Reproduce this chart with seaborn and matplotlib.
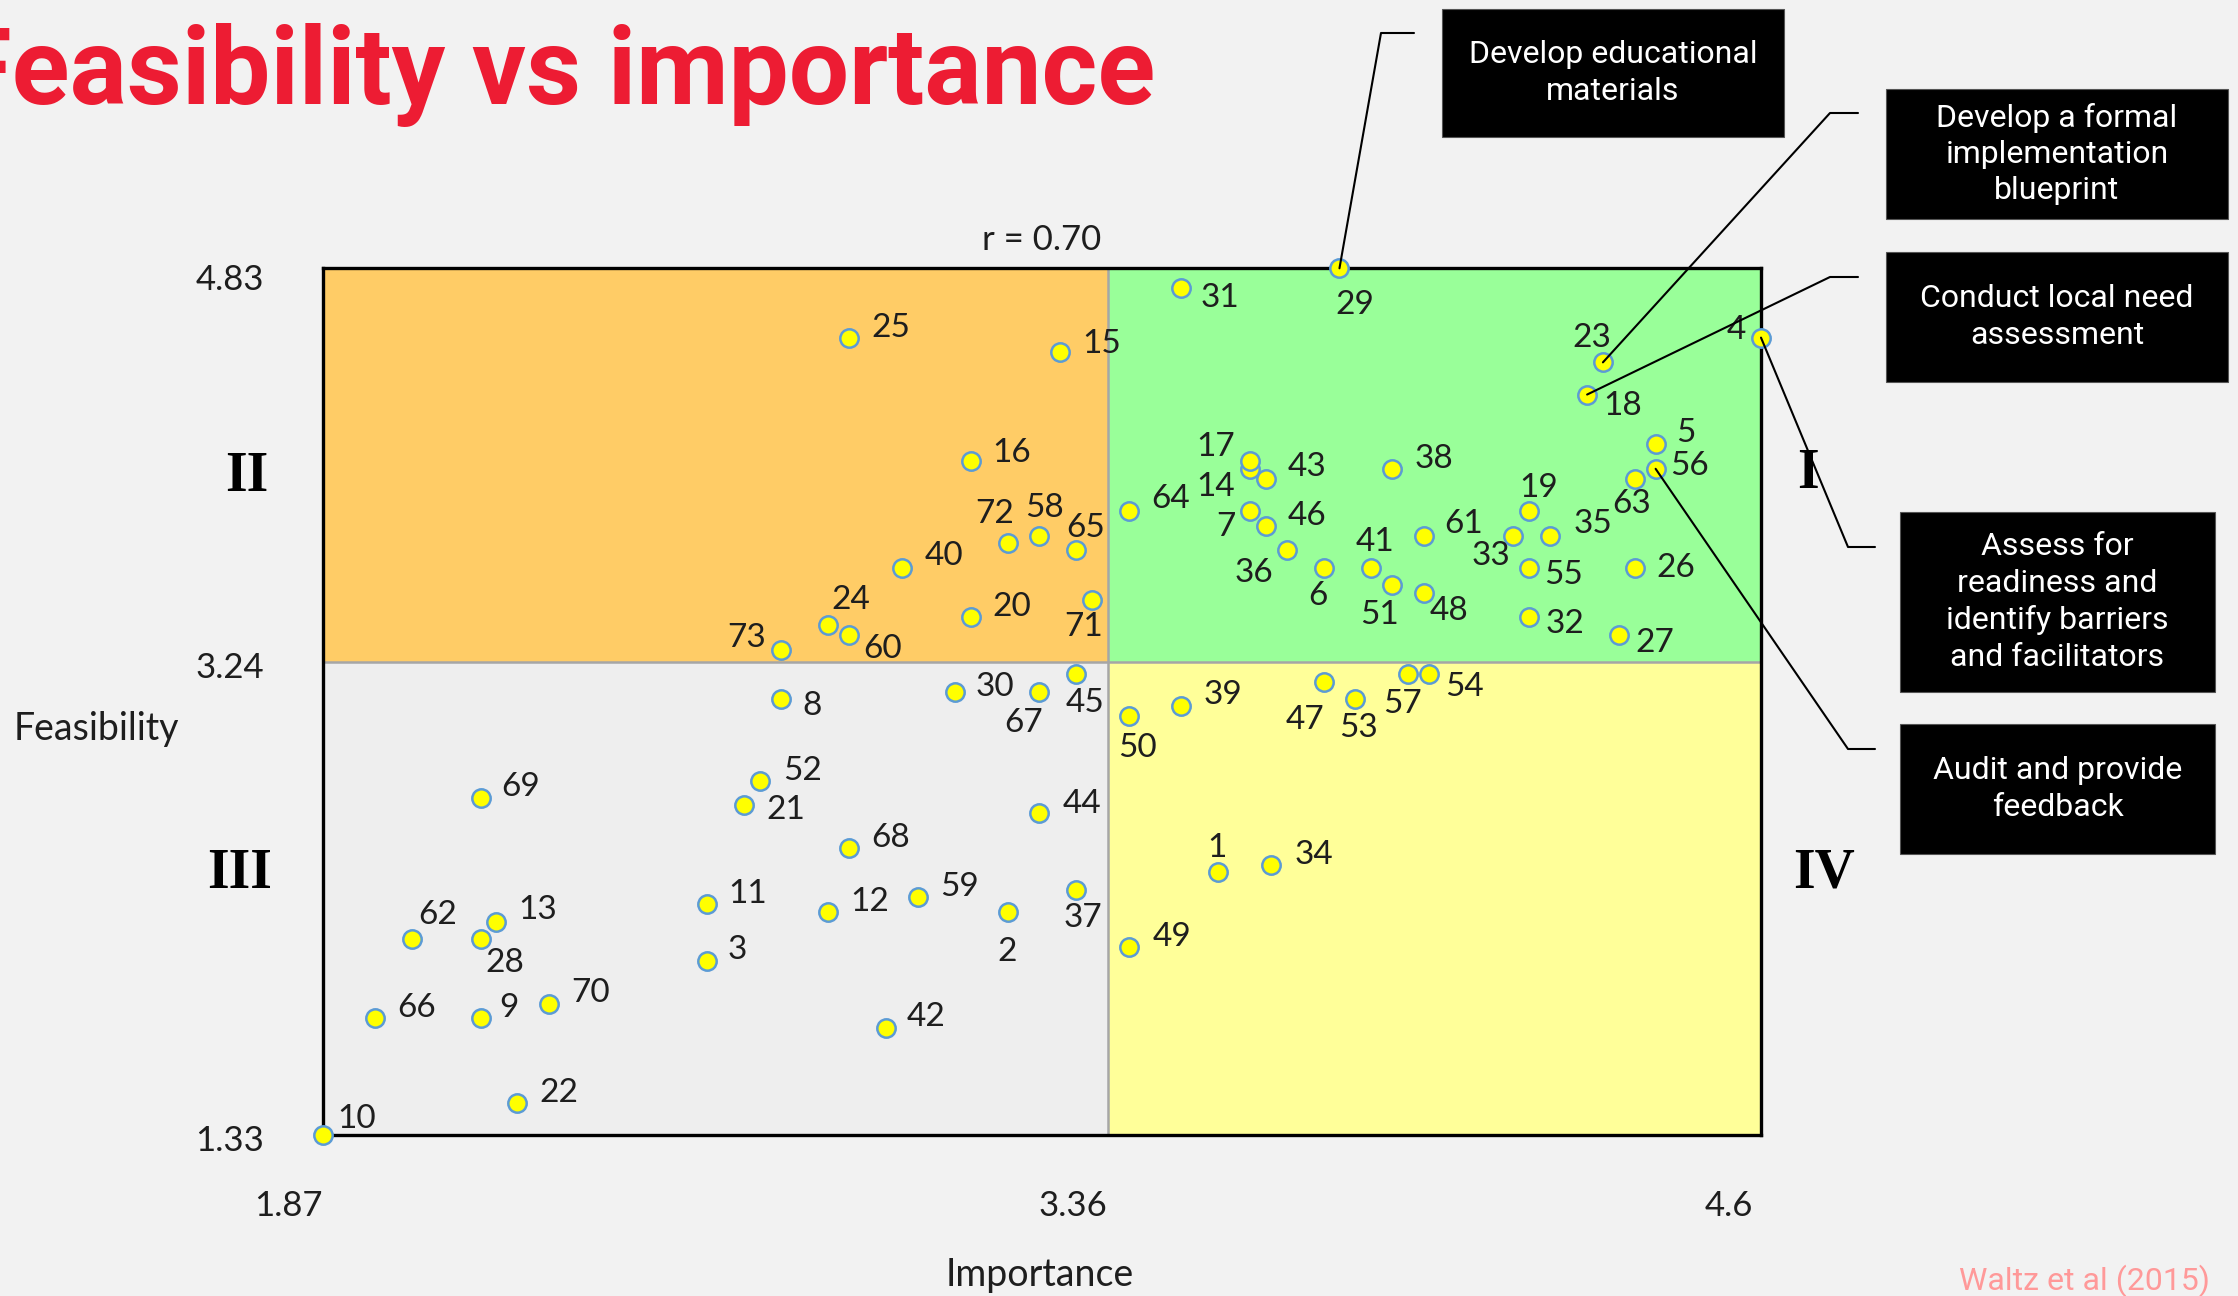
import matplotlib
matplotlib.use("Agg")
import matplotlib.pyplot as plt
import matplotlib.transforms as mtransforms
from matplotlib.patches import Rectangle
from matplotlib.lines import Line2D
import pandas as pd
import seaborn as sns

# ---------------------------------------------------------------- data
statement_ids = list(range(1, 74))
importance = [
    3.57, 3.17, 2.60, 4.60, 4.40, 3.77, 3.63, 2.74, 2.17, 1.87,
    2.60, 2.83, 2.20, 3.63, 3.27, 3.10, 3.63, 4.27, 4.16, 3.10,
    2.67, 2.24, 4.30, 2.83, 2.87, 4.36, 4.33, 2.17, 3.80, 3.07,
    3.50, 4.16, 4.13, 3.67, 4.20, 3.70, 3.30, 3.90, 3.50, 2.97,
    3.86, 2.94, 3.66, 3.23, 3.30, 3.66, 3.77, 3.96, 3.40, 3.40,
    3.90, 2.70, 3.83, 3.97, 4.16, 4.40, 3.93, 3.23, 3.00, 2.87,
    3.96, 2.04, 4.36, 3.40, 3.30, 1.97, 3.23, 2.87, 2.17, 2.30,
    3.33, 3.17, 2.74,
]
feasibility = [
    2.39, 2.23, 2.03, 4.55, 4.12, 3.62, 3.85, 3.09, 1.80, 1.33,
    2.26, 2.23, 2.19, 4.02, 4.49, 4.05, 4.05, 4.32, 3.85, 3.42,
    2.66, 1.46, 4.45, 3.39, 4.55, 3.62, 3.35, 2.12, 4.83, 3.12,
    4.75, 3.42, 3.75, 2.42, 3.75, 3.69, 2.32, 4.02, 3.06, 3.62,
    3.62, 1.76, 3.98, 2.63, 3.19, 3.79, 3.16, 3.52, 2.09, 3.02,
    3.55, 2.76, 3.09, 3.19, 3.62, 4.02, 3.19, 3.75, 2.29, 3.35,
    3.75, 2.12, 3.98, 3.85, 3.69, 1.80, 3.12, 2.49, 2.69, 1.86,
    3.49, 3.72, 3.29,
]
importance_range = (1.87, 4.6)
feasibility_range = (1.33, 4.83)
importance_mean = 3.36
feasibility_mean = 3.24
correlation_text = "r = 0.70"

x_tick_values = [1.87, 3.36, 4.6]
x_tick_labels = ["1.87", "3.36", "4.6"]
y_tick_values = [1.33, 3.24, 4.83]
y_tick_labels = ["1.33", "3.24", "4.83"]

callout_texts = [
    "Develop educational\nmaterials",
    "Develop a formal\nimplementation\nblueprint",
    "Conduct local need\nassessment",
    "Assess for\nreadiness and\nidentify barriers\nand facilitators",
    "Audit and provide\nfeedback",
]
callout_targets = [29, 23, 18, 4, 56]

title_text = "Feasibility vs importance"
source_text = "Waltz et al (2015)"

df = pd.DataFrame({"id": statement_ids,
                   "importance": importance,
                   "feasibility": feasibility})

# ---------------------------------------------------------------- layout
W, H = 2238, 1296
BG = "#F2F2F2"

# label placement around each marker (offset points: right, up)
label_offsets = {
    25: (29, 7), 15: (29, 6), 16: (29, 6), 72: (-9, 20), 58: (4, 19),
    65: (7, 16), 40: (29, 8), 24: (16, 17), 60: (23, -10), 20: (29, 7),
    71: (-6, -19), 73: (-24, 8), 31: (27, -7), 29: (11, -26), 23: (-8, 17),
    18: (25, -8), 4: (-17, 5), 5: (21, 8), 56: (24, 2), 63: (-2, -18),
    17: (-24, 10), 14: (-24, -13), 43: (29, 8), 38: (29, 7), 64: (29, 8),
    7: (-17, -11), 46: (29, 7), 19: (7, 16), 61: (28, 8), 33: (-16, -14),
    35: (30, 8), 36: (-23, -16), 6: (-4, -20), 41: (3, 18), 51: (-9, -21),
    48: (18, -13), 55: (24, -5), 26: (29, 0), 32: (25, -5), 27: (25, -6),
    50: (6, -22), 39: (29, 8), 47: (-13, -27), 53: (2, -20), 57: (-4, -21),
    54: (25, -9), 1: (-1, 17), 34: (30, 7), 49: (30, 7), 45: (6, -20),
    30: (28, 3), 67: (-11, -22), 8: (22, -5), 52: (30, 7), 21: (29, -3),
    69: (28, 8), 44: (30, 6), 68: (29, 7), 11: (28, 7), 12: (29, 7),
    59: (29, 7), 2: (0, -28), 37: (5, -20), 62: (18, 17), 13: (29, 8),
    28: (17, -17), 3: (21, 8), 66: (29, 7), 9: (20, 7), 70: (29, 7),
    42: (28, 8), 22: (29, 7), 10: (24, 11),
}

# callout boxes in pixel space: (left, top, right, bottom) and leader elbow
callout_boxes = [
    (1442, 9, 1784, 137),
    (1886, 89, 2228, 219),
    (1886, 252, 2228, 382),
    (1900, 512, 2215, 692),
    (1900, 724, 2215, 854),
]
callout_elbows = [
    ((1414, 33), (1381, 33)),
    ((1858, 113), (1830, 113)),
    ((1858, 277), (1830, 277)),
    ((1875, 547), (1848, 547)),
    ((1875, 749), (1848, 749)),
]


def fpos(px, py):
    return px / W, 1 - py / H


sns.set_style("white")
plt.rcParams["font.family"] = ["Lato", "DejaVu Sans"]

fig = plt.figure(figsize=(W / 100, H / 100), dpi=100, facecolor=BG)
L, R, T, B = 322.5, 1761, 268.3, 1134.7
ax = fig.add_axes([L / W, 1 - B / H, (R - L) / W, (B - T) / H])
ax.set_facecolor("none")

x0, x1 = importance_range
y0, y1 = feasibility_range
xm, ym = importance_mean, feasibility_mean

# quadrant shading
quads = [
    ((x0, ym), xm - x0, y1 - ym, "#FFCC66"),   # II
    ((xm, ym), x1 - xm, y1 - ym, "#99FF99"),   # I
    ((x0, y0), xm - x0, ym - y0, "#EEEEEE"),   # III
    ((xm, y0), x1 - xm, ym - y0, "#FFFF99"),   # IV
]
for xy, w, h, c in quads:
    ax.add_patch(Rectangle(xy, w, h, facecolor=c, edgecolor="none", zorder=0))
ax.axvline(xm, color="#A6A6A6", lw=1.8, zorder=1)
ax.axhline(ym, color="#A6A6A6", lw=1.8, zorder=1)

sns.scatterplot(data=df, x="importance", y="feasibility", ax=ax,
                s=175, color="#FFFF00", edgecolor="#5B9BD5", linewidth=1.8,
                zorder=5, clip_on=False, legend=False)

for sid, xv, yv in zip(statement_ids, importance, feasibility):
    dx, dy = label_offsets[sid]
    ax.annotate(str(sid), (xv, yv), xytext=(dx * 1.03, dy * 1.03),
                textcoords="offset points", ha="center", va="center",
                fontsize=24, color="#1E1E1E", zorder=6,
                annotation_clip=False)

ax.set_xlim(x0, x1)
ax.set_ylim(y0, y1)
ax.set(xlabel="", ylabel="")
ax.set_xticks(x_tick_values)
ax.set_xticklabels(x_tick_labels, ha="right")
ax.set_yticks(y_tick_values)
ax.set_yticklabels(y_tick_labels)
ax.tick_params(axis="x", length=0, pad=40, labelsize=25, labelcolor="#1E1E1E")
ax.tick_params(axis="y", length=0, pad=42, labelsize=25, labelcolor="#1E1E1E")
for sp in ax.spines.values():
    sp.set_visible(True)
    sp.set_color("black")
    sp.set_linewidth(2.4)
    sp.set_zorder(4)

# nudge a few tick labels (in pixels)
y_label_shift = {"4.83": -9, "3.24": -3, "1.33": -3}
for lab in ax.get_yticklabels():
    dy = y_label_shift.get(lab.get_text(), 0)
    lab.set_transform(lab.get_transform() +
                      mtransforms.ScaledTranslation(0, dy / 100,
                                                    fig.dpi_scale_trans))
for lab in ax.get_xticklabels():
    if lab.get_text() == "4.6":
        lab.set_transform(lab.get_transform() +
                          mtransforms.ScaledTranslation(-8 / 100, 0,
                                                        fig.dpi_scale_trans))

# axis titles, correlation and quadrant numerals
fig.text(*fpos(96, 729), "Feasibility", ha="center", va="center",
         fontsize=27, color="#1E1E1E")
fig.text(*fpos(1040, 1275), "Importance", ha="center", va="center",
         fontsize=27, color="#1E1E1E")
fig.text(*fpos(1042, 240), correlation_text, ha="center", va="center",
         fontsize=25, color="#1E1E1E")
for txt, (px, py) in zip(["II", "I", "III", "IV"],
                         [(247, 477), (1808, 474), (240, 874), (1824, 873)]):
    fig.text(*fpos(px, py), txt, ha="center", va="center", fontsize=40,
             fontweight="bold", family=["Liberation Serif", "DejaVu Serif"],
             color="black")

# title and source
fig.text(*fpos(1155, 104), title_text, ha="right", va="baseline",
         fontsize=77, fontweight="bold", color="#ED1C33",
         family=["Roboto", "DejaVu Sans"])
fig.text(*fpos(2210, 1290), source_text, ha="right", va="baseline",
         fontsize=23, color="#FF9999", family=["Roboto", "DejaVu Sans"])

# callout boxes with leader lines to their statements
fig.canvas.draw()
to_fig = fig.transFigure.inverted()
for text, target, box, elbow in zip(callout_texts, callout_targets,
                                    callout_boxes, callout_elbows):
    l, t, r, b = box
    fx0, fy0 = fpos(l, b)
    fig.add_artist(Rectangle((fx0, fy0), (r - l) / W, (b - t) / H,
                             transform=fig.transFigure, facecolor="black",
                             edgecolor="#555555", lw=0.8, zorder=10))
    fig.text(*fpos((l + r) / 2, (t + b) / 2), text, ha="center",
             va="center", fontsize=23, color="white", linespacing=1.32,
             family=["Roboto", "DejaVu Sans"], zorder=11)
    i = statement_ids.index(target)
    disp = ax.transData.transform((importance[i], feasibility[i]))
    tx, ty = to_fig.transform(disp)
    (ax_, ay_), (bx_, by_) = elbow
    p1 = fpos(ax_, ay_)
    p2 = fpos(bx_, by_)
    fig.add_artist(Line2D([p1[0], p2[0], tx], [p1[1], p2[1], ty],
                          transform=fig.transFigure, color="black",
                          lw=1.5, zorder=9))

fig.savefig("out.png", dpi=100, facecolor=BG)
